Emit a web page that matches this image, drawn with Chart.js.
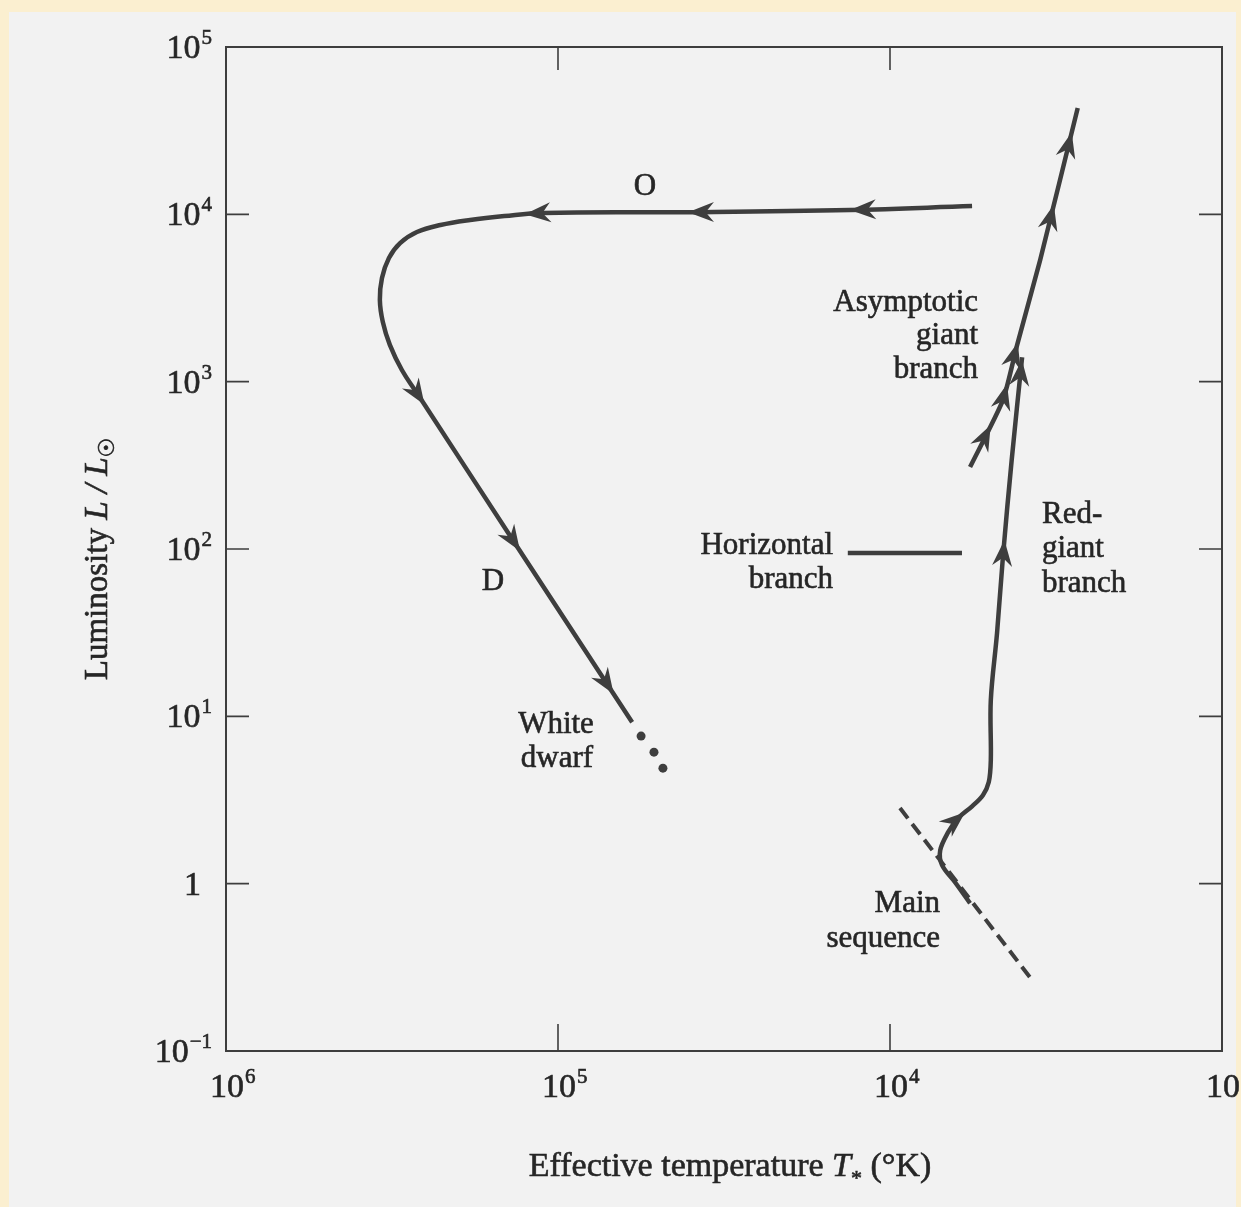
<!DOCTYPE html>
<html lang="en">
<head>
<meta charset="UTF-8">
<title>Evolutionary tracks in the H-R diagram</title>
<script src="https://cdn.jsdelivr.net/npm/chart.js"></script>
<style>
  html, body { margin: 0; padding: 0; background: #fbefd0; }
  #page { position: absolute; left: 9px; top: 12px; width: 1227px; height: 1195px; background: #f2f2f2; }
  #hr { position: absolute; left: 0; top: 0; }
</style>
</head>
<body>
<div id="page"></div>
<canvas id="hr" width="1241" height="1207"></canvas>

<script>
// Effective temperature (K) and luminosity (L/Lsun)

// planetary nebula nucleus: across the top (O), down to the white dwarf (D)
const postAgbT = [5660, 13200, 37300, 111000, 145000, 184000, 226000, 266000, 299000, 323000, 339000, 344000, 337000, 321000, 295000, 266000, 133000, 59800];
const postAgbL = [11200, 10600, 10300, 10200, 9770, 9250, 8630, 7840, 6730, 5480, 4160, 3080, 2270, 1660, 1170, 855, 104, 9.22];

// main sequence turn-off and red-giant branch
const rgbT = [5740, 6370, 6970, 7060, 6680, 6240, 5660, 5250, 5040, 4970, 4970, 4760, 4570, 4300, 4000];
const rgbL = [0.764, 1.02, 1.29, 1.58, 2.03, 2.46, 2.90, 3.38, 4.05, 5.47, 12.5, 31.4, 89.5, 340, 1400];

// asymptotic giant branch
const agbT = [5740, 4570, 4140, 3530, 2720];
const agbL = [309, 776, 1660, 5330, 43200];

// main sequence (dashed)
const msT = [9330, 3730];
const msL = [2.83, 0.265];

// horizontal branch
const hbT = [13400, 6070];
const hbL = [94.6, 94.6];

// white dwarf dots
const wdT = [56200, 51400, 48300];
const wdL = [7.62, 6.11, 4.90];

// arrowheads: which track, and where the tip sits
const arrowTrack = [0, 0, 0, 0, 0, 0, 1, 1, 1, 2, 2, 2, 2, 2];
const arrowT = [13200, 40600, 126000, 248000, 133000, 68700, 5940, 4510, 4000, 5110, 4570, 4200, 3180, 2770];
const arrowL = [10600, 10300, 10200, 745, 94.6, 13.4, 2.67, 113, 1350, 566, 982, 1730, 11400, 30600];

// axes
const xTicks = [1e6, 1e5, 1e4, 1e3];
const xTickText = ['10^6', '10^5', '10^4', '10^3'];
const yTicks = [0.1, 1, 10, 100, 1000, 1e4, 1e5];
const yTickText = ['10^\u22121', '1', '10^1', '10^2', '10^3', '10^4', '10^5'];

const INK = '#3e3e3e';
const TEXT = '#262626';
const SERIF = '"Liberation Serif", "Times New Roman", serif';

const labels = [
    { t: 'O', x: 645, y: 195, align: 'center' },
    { t: 'Asymptotic', x: 978, y: 311, align: 'right' },
    { t: 'giant', x: 978, y: 344, align: 'right' },
    { t: 'branch', x: 978, y: 378, align: 'right' },
    { t: 'Horizontal', x: 833, y: 554, align: 'right' },
    { t: 'branch', x: 833, y: 588, align: 'right' },
    { t: 'Red-', x: 1042, y: 523, align: 'left' },
    { t: 'giant', x: 1042, y: 557, align: 'left' },
    { t: 'branch', x: 1042, y: 592, align: 'left' },
    { t: 'D', x: 493, y: 590, align: 'center' },
    { t: 'White', x: 556, y: 733, align: 'center' },
    { t: 'dwarf', x: 557, y: 767, align: 'center' },
    { t: 'Main', x: 940, y: 912, align: 'right' },
    { t: 'sequence', x: 940, y: 947, align: 'right' }
];

const toPoints = (t, l) => t.map((v, i) => ({ x: v, y: l[i] }));

// filled text with a hairline stroke, to get the heavier look of the print
function ink(ctx, s, x, y) {
    ctx.fillText(s, x, y);
    ctx.strokeText(s, x, y);
}

function drawPower(ctx, label, x, y, align) {
    const [base, exp] = label.split('^');
    ctx.font = '34px ' + SERIF;
    const wb = ctx.measureText(base).width;
    ctx.font = '21px ' + SERIF;
    const we = exp ? ctx.measureText(exp).width + 1 : 0;
    const x0 = align === 'right' ? x - wb - we : x - wb / 2;
    ctx.textAlign = 'left';
    ctx.textBaseline = 'alphabetic';
    ctx.font = '34px ' + SERIF;
    ink(ctx, base, x0, y);
    if (exp) {
        ctx.font = '21px ' + SERIF;
        ink(ctx, exp, x0 + wb + 1, y - 14);
    }
}

// draw a run of differently styled pieces centred on x
function drawParts(ctx, parts, x, y) {
    let total = 0;
    parts.forEach(p => { ctx.font = p.font; p.w = ctx.measureText(p.t).width; total += p.w; });
    let cx = x - total / 2;
    ctx.textAlign = 'left';
    ctx.textBaseline = 'alphabetic';
    parts.forEach(p => {
        ctx.font = p.font;
        ink(ctx, p.t, cx, y + (p.dy || 0));
        cx += p.w;
    });
}

function drawArrow(ctx, pts, px, py) {
    let best = null;
    for (let i = 0; i < pts.length - 1; i++) {
        const ax = pts[i].x, ay = pts[i].y, dx = pts[i + 1].x - ax, dy = pts[i + 1].y - ay;
        const len2 = dx * dx + dy * dy;
        if (!len2) continue;
        const t = Math.max(0, Math.min(1, ((px - ax) * dx + (py - ay) * dy) / len2));
        const qx = ax + t * dx, qy = ay + t * dy;
        const d = (qx - px) ** 2 + (qy - py) ** 2;
        if (!best || d < best.d) {
            const len = Math.sqrt(len2);
            best = { d, qx, qy, ux: dx / len, uy: dy / len };
        }
    }
    const { qx, qy, ux, uy } = best;
    const L = 26, W = 10, nx = -uy, ny = ux;
    ctx.beginPath();
    ctx.moveTo(qx, qy);
    ctx.lineTo(qx - ux * L + nx * W, qy - uy * L + ny * W);
    ctx.lineTo(qx - ux * L * 0.68, qy - uy * L * 0.68);
    ctx.lineTo(qx - ux * L - nx * W, qy - uy * L - ny * W);
    ctx.closePath();
    ctx.fill();
}

const hrDecor = {
    id: 'hrDecor',
    afterDatasetsDraw(chart) {
        const ctx = chart.ctx, xs = chart.scales.x, ys = chart.scales.y, a = chart.chartArea;
        ctx.save();

        // frame
        ctx.strokeStyle = INK;
        ctx.lineWidth = 2;
        ctx.strokeRect(a.left, a.top, a.right - a.left, a.bottom - a.top);

        // inner tick marks on all four sides
        ctx.lineWidth = 1.6;
        ctx.beginPath();
        yTicks.forEach(v => {
            if (v <= ys.min || v >= ys.max) return;
            const y = ys.getPixelForValue(v);
            ctx.moveTo(a.left, y); ctx.lineTo(a.left + 23, y);
            ctx.moveTo(a.right - 23, y); ctx.lineTo(a.right, y);
        });
        xTicks.forEach(v => {
            if (v <= xs.min || v >= xs.max) return;
            const x = xs.getPixelForValue(v);
            ctx.moveTo(x, a.bottom); ctx.lineTo(x, a.bottom - 27);
            ctx.moveTo(x, a.top); ctx.lineTo(x, a.top + 23);
        });
        ctx.stroke();

        // arrowheads
        ctx.fillStyle = INK;
        arrowT.forEach((t, i) => {
            const pts = chart.getDatasetMeta(arrowTrack[i]).data;
            drawArrow(ctx, pts, xs.getPixelForValue(t), ys.getPixelForValue(arrowL[i]));
        });

        // tick labels
        ctx.fillStyle = TEXT;
        ctx.strokeStyle = TEXT;
        ctx.lineWidth = 0.6;
        yTicks.forEach((v, i) => {
            const y = ys.getPixelForValue(v) + 11;
            if (yTickText[i].includes('^')) drawPower(ctx, yTickText[i], 212, y, 'right');
            else drawPower(ctx, yTickText[i], 201, y, 'right');
        });
        xTicks.forEach((v, i) => {
            drawPower(ctx, xTickText[i], xs.getPixelForValue(v) + 1, a.bottom + 46, 'center');
        });

        // axis titles
        drawParts(ctx, [
            { t: 'Effective temperature ', font: '34px ' + SERIF },
            { t: 'T', font: 'italic 34px ' + SERIF },
            { t: '*', font: '22px ' + SERIF, dy: 9 },
            { t: ' (\u00b0K)', font: '34px ' + SERIF }
        ], 730, 1176);

        ctx.save();
        ctx.translate(96, 559);
        ctx.rotate(-Math.PI / 2);
        drawParts(ctx, [
            { t: 'Luminosity ', font: '33px ' + SERIF },
            { t: 'L / L', font: 'italic 33px ' + SERIF },
            { t: '\u2609', font: '22px "DejaVu Sans", ' + SERIF, dy: 7 }
        ], 0, 11);
        ctx.restore();

        // annotations
        ctx.font = '31px ' + SERIF;
        ctx.textBaseline = 'alphabetic';
        labels.forEach(l => {
            ctx.textAlign = l.align;
            ink(ctx, l.t, l.x, l.y);
        });

        ctx.restore();
    }
};

const lineStyle = { showLine: true, borderColor: INK, pointRadius: 0, fill: false };

new Chart(document.getElementById('hr'), {
    type: 'scatter',
    data: {
        datasets: [
            { ...lineStyle, data: toPoints(postAgbT, postAgbL), borderWidth: 4.5, tension: 0.4 },
            { ...lineStyle, data: toPoints(rgbT, rgbL), borderWidth: 4.5, tension: 0.35 },
            { ...lineStyle, data: toPoints(agbT, agbL), borderWidth: 4.5, tension: 0.2 },
            { ...lineStyle, data: toPoints(msT, msL), borderWidth: 4, borderDash: [13, 7] },
            { ...lineStyle, data: toPoints(hbT, hbL), borderWidth: 4.5 },
            { data: toPoints(wdT, wdL), showLine: false, pointRadius: 4.5, backgroundColor: INK, borderWidth: 0 }
        ]
    },
    options: {
        responsive: false,
        animation: false,
        events: [],
        layout: { padding: { left: 226, right: 19, top: 47, bottom: 156 } },
        plugins: { legend: { display: false }, tooltip: { enabled: false } },
        scales: {
            x: { type: 'logarithmic', min: 1e3, max: 1e6, reverse: true, display: false },
            y: { type: 'logarithmic', min: 0.1, max: 1e5, display: false }
        }
    },
    plugins: [hrDecor]
});
</script>
</body>
</html>
